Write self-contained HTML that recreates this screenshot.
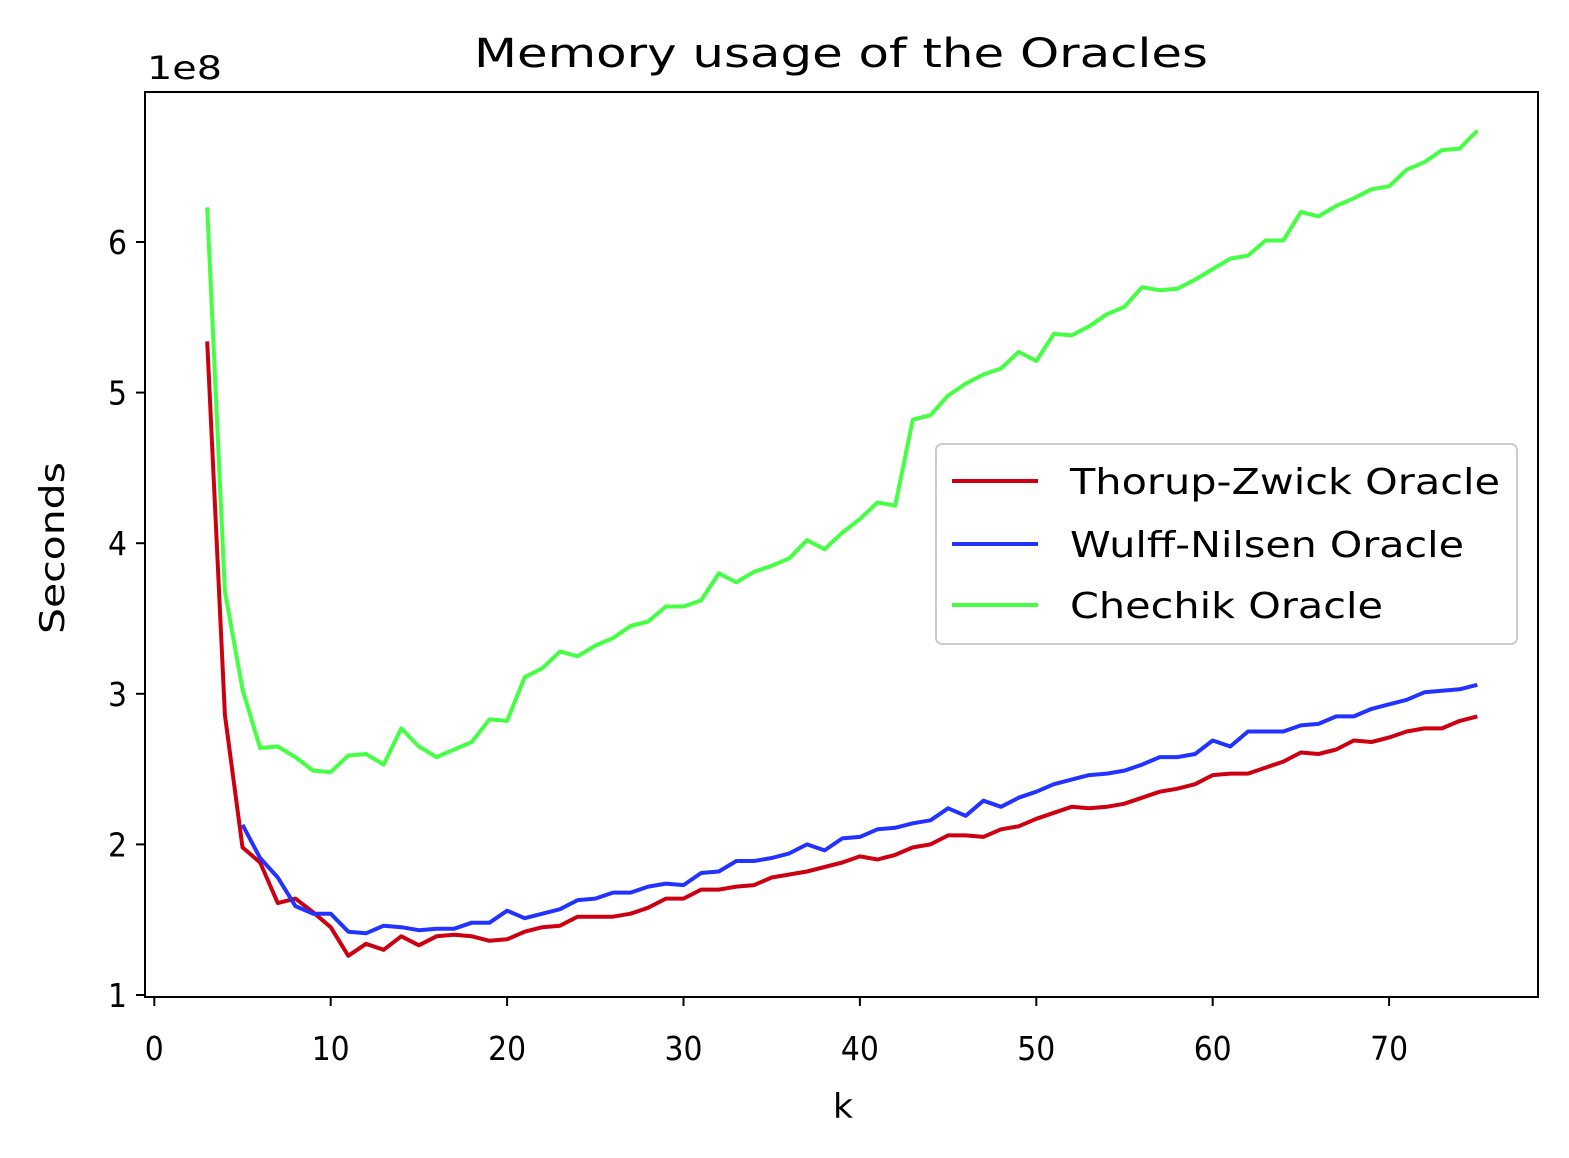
<!DOCTYPE html>
<html><head><meta charset="utf-8"><style>
body{margin:0;background:#fff;}
svg{display:block;font-family:"DejaVu Sans","Liberation Sans",sans-serif;}
</style></head><body>
<svg id="chart" width="1569" height="1158" viewBox="0 0 1569 1158">
<rect width="1569" height="1158" fill="#fff"/>
<text x="474" y="67" font-size="40" textLength="734" lengthAdjust="spacingAndGlyphs">Memory usage of the Oracles</text>
<text x="147" y="79" font-size="32" textLength="75" lengthAdjust="spacingAndGlyphs">1e8</text>
<text x="833" y="1118" font-size="34" textLength="20" lengthAdjust="spacingAndGlyphs">k</text>
<text transform="translate(64,634) rotate(-90)" font-size="34" textLength="172" lengthAdjust="spacingAndGlyphs">Seconds</text>
<g id="ticks"></g>
<g id="lines"></g>
<rect x="145" y="92" width="1393" height="905" fill="none" stroke="#000" stroke-width="2"/>
<g>
<rect x="936" y="444" width="581" height="200" rx="6" fill="#fff" stroke="#ccc" stroke-width="2"/>
<line x1="952" y1="481" x2="1038" y2="481" stroke="#cc0011" stroke-width="4"/>
<text x="1070" y="494" font-size="36" textLength="430" lengthAdjust="spacingAndGlyphs">Thorup-Zwick Oracle</text>
<line x1="952" y1="544" x2="1038" y2="544" stroke="#2233ff" stroke-width="4"/>
<text x="1070" y="557" font-size="36" textLength="394" lengthAdjust="spacingAndGlyphs">Wulff-Nilsen Oracle</text>
<line x1="952" y1="605" x2="1038" y2="605" stroke="#44ff44" stroke-width="4"/>
<text x="1070" y="618" font-size="36" textLength="313" lengthAdjust="spacingAndGlyphs">Chechik Oracle</text>
</g>
</svg>
<script>
const xTicks=[0,10,20,30,40,50,60,70];
const yTicks=[1,2,3,4,5,6];
const red=[5.34,2.86,1.98,1.88,1.61,1.64,1.55,1.45,1.26,1.34,1.30,1.39,1.33,1.39,1.40,1.39,1.36,1.37,1.42,1.45,1.46,1.52,1.52,1.52,1.54,1.58,1.64,1.64,1.70,1.70,1.72,1.73,1.78,1.80,1.82,1.85,1.88,1.92,1.90,1.93,1.98,2.00,2.06,2.06,2.05,2.10,2.12,2.17,2.21,2.25,2.24,2.25,2.27,2.31,2.35,2.37,2.40,2.46,2.47,2.47,2.51,2.55,2.61,2.60,2.63,2.69,2.68,2.71,2.75,2.77,2.77,2.82,2.85];
const blue=[2.13,1.91,1.78,1.59,1.54,1.54,1.42,1.41,1.46,1.45,1.43,1.44,1.44,1.48,1.48,1.56,1.51,1.54,1.57,1.63,1.64,1.68,1.68,1.72,1.74,1.73,1.81,1.82,1.89,1.89,1.91,1.94,2.00,1.96,2.04,2.05,2.10,2.11,2.14,2.16,2.24,2.19,2.29,2.25,2.31,2.35,2.40,2.43,2.46,2.47,2.49,2.53,2.58,2.58,2.60,2.69,2.65,2.75,2.75,2.75,2.79,2.80,2.85,2.85,2.90,2.93,2.96,3.01,3.02,3.03,3.06];
const green=[6.23,3.68,3.03,2.64,2.65,2.58,2.49,2.48,2.59,2.60,2.53,2.77,2.65,2.58,2.63,2.68,2.83,2.82,3.11,3.17,3.28,3.25,3.32,3.37,3.45,3.48,3.58,3.58,3.62,3.80,3.74,3.81,3.85,3.90,4.02,3.96,4.07,4.16,4.27,4.25,4.82,4.85,4.98,5.06,5.12,5.16,5.27,5.21,5.39,5.38,5.44,5.52,5.57,5.70,5.68,5.69,5.75,5.82,5.89,5.91,6.01,6.01,6.20,6.17,6.24,6.29,6.35,6.37,6.48,6.53,6.61,6.62,6.74];
const redStart=3, blueStart=5, greenStart=3;
const NS="http://www.w3.org/2000/svg";
function xs(k){return 154.3+k*17.64;}
function ys(v){return 995-(v-1)*150.6;}
const tg=document.getElementById('ticks');
function mk(tag,attrs,parent){const e=document.createElementNS(NS,tag);for(const a in attrs)e.setAttribute(a,attrs[a]);parent.appendChild(e);return e;}
xTicks.forEach(t=>{
  const x=xs(t);
  const l=mk('line',{x1:x,y1:997,x2:x,y2:1006,stroke:'#000','stroke-width':2},tg);
  
  
  const s=String(t);
  const w=19*s.length;
  const tx=mk('text',{x:x-w/2,y:1060,'font-size':33,textLength:w,lengthAdjust:'spacingAndGlyphs'},tg);
  tx.textContent=s;
  
  
});
yTicks.forEach(t=>{
  const y=ys(t);
  const l=mk('line',{x1:136,y1:y,x2:145,y2:y,stroke:'#000','stroke-width':2},tg);
  
  
  const tx=mk('text',{x:108,y:y+12,'font-size':33,textLength:19,lengthAdjust:'spacingAndGlyphs'},tg);
  tx.textContent=t;
  
  
});
const lg=document.getElementById('lines');
function series(vals,start,color,name){
  const pts=vals.map((v,i)=>xs(start+i).toFixed(1)+','+ys(v).toFixed(1)).join(' ');
  const p=mk('polyline',{points:pts,fill:'none',stroke:color,'stroke-width':4,'stroke-linejoin':'round'},lg);
  
  
}
series(red,redStart,'#cc0011','thorup-zwick-line');
series(blue,blueStart,'#2233ff','wulff-nilsen-line');
series(green,greenStart,'#44ff44','chechik-line');
</script>
</body></html>
